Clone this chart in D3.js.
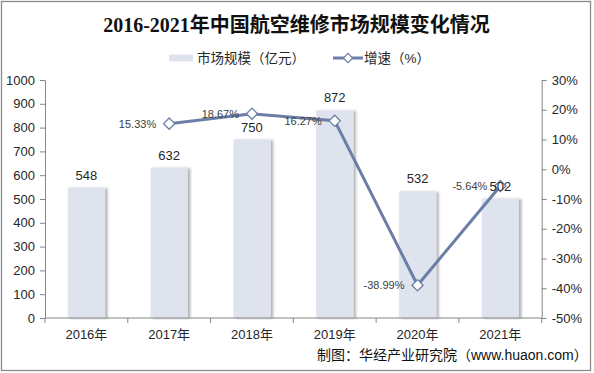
<!DOCTYPE html>
<html>
<head>
<meta charset="utf-8">
<script src="https://cdn.jsdelivr.net/npm/d3@7"></script>
<style>
    body { margin: 0; background: #fff; }
    text { font-family: "Liberation Sans", Arial, "Noto Sans CJK SC", sans-serif; }
</style>
</head>
<body>
<div id="chart"></div>
<script>
// data
const years = ['2016年', '2017年', '2018年', '2019年', '2020年', '2021年'];
const marketSize = [548, 632, 750, 872, 532, 502];       // 亿元
const growth = [null, 15.33, 18.67, 16.27, -38.99, -5.64]; // %
const leftTicks = [0, 100, 200, 300, 400, 500, 600, 700, 800, 900, 1000];
const rightTicks = [-50, -40, -30, -20, -10, 0, 10, 20, 30];

const W = 594, H = 373;
const plot = { left: 45, right: 541.7, top: 80, bottom: 318 };

const barColor = '#dee3ed';
const lineColor = '#6b7ea6';
const axisColor = '#868686';
const textColor = '#262626';

const svg = d3.select('#chart').append('svg')
    .attr('width', W)
    .attr('height', H);

// little shadow on the right of the bars
const defs = svg.append('defs');
const shadow = defs.append('filter')
    .attr('id', 'bar-shadow')
    .attr('x', '-10%').attr('y', '-10%')
    .attr('width', '130%').attr('height', '120%');
shadow.append('feDropShadow')
    .attr('dx', 2.5).attr('dy', 0.5)
    .attr('stdDeviation', 1.2)
    .attr('flood-color', '#000')
    .attr('flood-opacity', 0.3);

// outer frame
svg.append('rect')
    .attr('x', 1.5).attr('y', 1.5)
    .attr('width', 589).attr('height', 369)
    .attr('fill', 'none')
    .attr('stroke', '#8a8a8a')
    .attr('stroke-width', 1.3);

// scales
const x = d3.scaleBand()
    .domain(years)
    .range([plot.left, plot.right])
    .padding(0);

const yL = d3.scaleLinear().domain([0, 1000]).range([plot.bottom, plot.top]);
const yR = d3.scaleLinear().domain([-50, 30]).range([plot.bottom, plot.top]);

const barW = x.bandwidth() * 0.45;

// bars
svg.append('g')
    .selectAll('rect')
    .data(years)
    .join('rect')
    .attr('x', d => x(d) + (x.bandwidth() - barW) / 2)
    .attr('y', (d, i) => yL(marketSize[i]))
    .attr('width', barW)
    .attr('height', (d, i) => plot.bottom - yL(marketSize[i]))
    .attr('fill', barColor)
    .attr('filter', 'url(#bar-shadow)');

// left axis
const axisL = svg.append('g')
    .attr('transform', `translate(${plot.left},0)`)
    .call(d3.axisLeft(yL).tickValues(leftTicks).tickSize(5).tickPadding(5).tickSizeOuter(0)
        .tickFormat(d3.format('d')));

// right axis
const axisR = svg.append('g')
    .attr('transform', `translate(${plot.right},0)`)
    .call(d3.axisRight(yR).tickValues(rightTicks).tickSize(5).tickPadding(5).tickSizeOuter(0)
        .tickFormat(d => d + '%'));

[axisL, axisR].forEach(a => {
    a.select('.domain').attr('stroke', axisColor);
    a.selectAll('.tick line').attr('stroke', axisColor);
    a.selectAll('.tick text')
        .style('font-size', '13px')
        .style('font-family', '"Liberation Sans", Arial, sans-serif')
        .attr('fill', textColor);
});

// bottom axis, ticks at band edges
const xg = svg.append('g');
xg.append('line')
    .attr('x1', plot.left).attr('x2', plot.right)
    .attr('y1', plot.bottom).attr('y2', plot.bottom)
    .attr('stroke', axisColor);
const edges = years.map(d => x(d)).concat([plot.right]);
xg.selectAll('line.edge')
    .data(edges)
    .join('line')
    .attr('class', 'edge')
    .attr('x1', d => d).attr('x2', d => d)
    .attr('y1', plot.bottom).attr('y2', plot.bottom + 5)
    .attr('stroke', axisColor);
xg.selectAll('text')
    .data(years)
    .join('text')
    .attr('x', d => x(d) + x.bandwidth() / 2)
    .attr('y', plot.bottom + 21)
    .attr('text-anchor', 'middle')
    .style('font-size', '13px')
    .style('fill', textColor)
    .text(d => d);

// growth line
const pts = years.map((d, i) => ({ year: d, v: growth[i] })).filter(p => p.v !== null);

const line = d3.line()
    .x(p => x(p.year) + x.bandwidth() / 2)
    .y(p => yR(p.v));

svg.append('path')
    .datum(pts)
    .attr('d', line)
    .attr('fill', 'none')
    .attr('stroke', lineColor)
    .attr('stroke-width', 3)
    .attr('stroke-linejoin', 'round');

const diamond = d3.symbol().type(d3.symbolDiamond2).size(80);

svg.append('g')
    .selectAll('path')
    .data(pts)
    .join('path')
    .attr('d', diamond)
    .attr('transform', p => `translate(${x(p.year) + x.bandwidth() / 2},${yR(p.v)})`)
    .attr('fill', '#fff')
    .attr('stroke', lineColor)
    .attr('stroke-width', 1.3);

// growth labels sit left of the marker
svg.append('g')
    .selectAll('text')
    .data(pts)
    .join('text')
    .attr('x', p => x(p.year) + x.bandwidth() / 2 - 13)
    .attr('y', p => yR(p.v) + 4)
    .attr('text-anchor', 'end')
    .style('font-size', '11px')
    .style('fill', '#404040')
    .text(p => p.v.toFixed(2) + '%');

// bar value labels (on top of the line, like the original)
svg.append('g')
    .selectAll('text')
    .data(years)
    .join('text')
    .attr('x', d => x(d) + x.bandwidth() / 2)
    .attr('y', (d, i) => yL(marketSize[i]) - 8)
    .attr('text-anchor', 'middle')
    .style('font-size', '13px')
    .style('fill', textColor)
    .text((d, i) => marketSize[i]);

// title
svg.append('text')
    .attr('x', 296.5)
    .attr('y', 32)
    .attr('text-anchor', 'middle')
    .style('font-family', '"Liberation Serif", "Noto Sans CJK SC", serif')
    .style('font-size', '20px')
    .style('font-weight', 'bold')
    .style('fill', '#111')
    .text('2016-2021年中国航空维修市场规模变化情况');

// legend
const legend = svg.append('g').attr('transform', 'translate(0,58)');
legend.append('rect')
    .attr('x', 169).attr('y', -3.5)
    .attr('width', 24).attr('height', 7)
    .attr('fill', barColor);
legend.append('text')
    .attr('x', 197).attr('y', 5)
    .style('font-size', '13.5px')
    .style('fill', textColor)
    .text('市场规模（亿元）');
legend.append('line')
    .attr('x1', 333).attr('x2', 363)
    .attr('y1', 0).attr('y2', 0)
    .attr('stroke', lineColor)
    .attr('stroke-width', 3);
legend.append('path')
    .attr('d', d3.symbol().type(d3.symbolDiamond2).size(55))
    .attr('transform', 'translate(348,0)')
    .attr('fill', '#fff')
    .attr('stroke', lineColor)
    .attr('stroke-width', 1.2);
legend.append('text')
    .attr('x', 364).attr('y', 5)
    .style('font-size', '13.5px')
    .style('fill', textColor)
    .text('增速（%）');

// source
svg.append('text')
    .attr('x', 317)
    .attr('y', 360)
    .style('font-size', '14px')
    .style('fill', '#111')
    .text('制图：华经产业研究院（www.huaon.com）');
</script>
</body>
</html>
